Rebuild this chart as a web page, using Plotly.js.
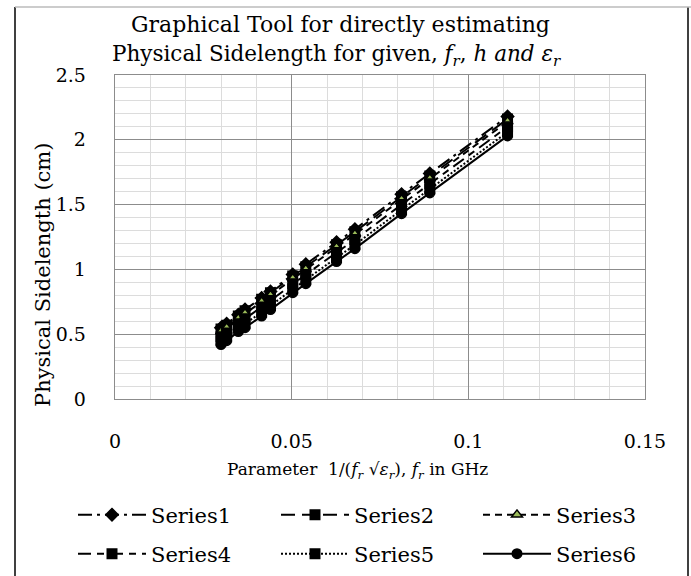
<!DOCTYPE html>
<html>
<head>
<meta charset="utf-8">
<script src="https://cdn.plot.ly/plotly-3.0.1.min.js"></script>
<style>html,body{margin:0;padding:0;background:#fff;}#chart{width:691px;height:576px;}</style>
</head>
<body>
<div id="chart"></div>
<script>
// Parameter 1/(fr*sqrt(er)), fr in GHz
const xParam = [0.0300, 0.0316, 0.0349, 0.0368, 0.0415, 0.0440, 0.0503, 0.0540, 0.0627, 0.0679, 0.0811, 0.0891, 0.1111];
const series1 = [0.55, 0.58, 0.65, 0.69, 0.78, 0.83, 0.96, 1.04, 1.21, 1.31, 1.58, 1.74, 2.18];
const series2 = [0.54, 0.57, 0.64, 0.68, 0.77, 0.82, 0.95, 1.02, 1.19, 1.29, 1.56, 1.72, 2.16];
const series3 = [0.52, 0.55, 0.62, 0.66, 0.75, 0.80, 0.93, 1.00, 1.17, 1.27, 1.54, 1.70, 2.14];
const series4 = [0.48, 0.51, 0.58, 0.62, 0.71, 0.76, 0.89, 0.96, 1.13, 1.23, 1.50, 1.66, 2.10];
const series5 = [0.45, 0.48, 0.55, 0.58, 0.67, 0.72, 0.85, 0.92, 1.09, 1.19, 1.46, 1.62, 2.06];
const series6 = [0.42, 0.45, 0.52, 0.55, 0.64, 0.69, 0.82, 0.89, 1.06, 1.16, 1.43, 1.59, 2.03];
const seriesNames = ['Series1', 'Series2', 'Series3', 'Series4', 'Series5', 'Series6'];

const FONT = 'DejaVu Serif';
const styles = [
  {dash: '14px,5px,3px,5px', symbol: 'diamond', color: '#000'},
  {dash: '14px,7px', symbol: 'square', color: '#000'},
  {dash: '7px,5px', symbol: 'triangle-up', color: '#9bbb59'},
  {dash: '13px,6px,7px,6px', symbol: 'square', color: '#000'},
  {dash: '2px,2px', symbol: 'square', color: '#000'},
  {dash: 'solid', symbol: 'circle', color: '#000'}
];
const legendIds = ['legend', 'legend2', 'legend3', 'legend4', 'legend5', 'legend6'];
const ys = [series1, series2, series3, series4, series5, series6];
const traces = ys.map((y, i) => ({
  type: 'scatter', mode: 'lines+markers', x: xParam, y: y,
  name: seriesNames[i],
  legend: legendIds[i],
  line: {color: '#000', width: 2, dash: styles[i].dash},
  marker: {symbol: styles[i].symbol, size: 9.5, color: styles[i].color, line: {color: '#000', width: 1.5}}
}));

// legend placement (container px)
const colX = [73, 276, 478];
const rowY = [515, 554];
function legendAt(col, row) {
  return {
    orientation: 'h', xref: 'container', yref: 'container', xanchor: 'left', yanchor: 'middle',
    x: colX[col] / 691, y: 1 - rowY[row] / 576,
    font: {family: FONT, size: 21, color: '#000'}, itemwidth: 68,
    bgcolor: 'rgba(0,0,0,0)', borderwidth: 0
  };
}
const px = v => (v - 115) / 530;   // container px -> paper x
const py = v => (399 - v) / 324;   // container px -> paper y

const layout = {
  width: 691, height: 576,
  margin: {l: 115, r: 46, t: 75, b: 177},
  paper_bgcolor: '#fff', plot_bgcolor: '#fff',
  font: {family: FONT, color: '#000'},
  showlegend: true,
  xaxis: {
    range: [0, 0.15], dtick: 0.05, tick0: 0, showgrid: true, gridcolor: '#8c8c8c', gridwidth: 1.3,
    minor: {dtick: 0.01, showgrid: true, gridcolor: '#dcdcdc', gridwidth: 1},
    showline: true, mirror: true, linecolor: '#8c8c8c', linewidth: 1.3, zeroline: false,
    ticks: '', tickfont: {family: FONT, size: 19, color: '#000'}, ticklabelstandoff: 25,
    fixedrange: true
  },
  yaxis: {
    range: [0, 2.5], dtick: 0.5, tick0: 0, showgrid: true, gridcolor: '#8c8c8c', gridwidth: 1.3,
    minor: {dtick: 0.1, showgrid: true, gridcolor: '#dcdcdc', gridwidth: 1},
    showline: true, mirror: true, linecolor: '#8c8c8c', linewidth: 1.3, zeroline: false,
    ticks: '', tickfont: {family: FONT, size: 19, color: '#000'}, ticklabelstandoff: 24,
    fixedrange: true
  },
  legend: legendAt(0, 0), legend2: legendAt(1, 0), legend3: legendAt(2, 0),
  legend4: legendAt(0, 1), legend5: legendAt(1, 1), legend6: legendAt(2, 1),
  annotations: [
    {text: 'Graphical Tool for directly estimating', xref: 'paper', yref: 'paper',
     x: px(340), y: py(25), showarrow: false, xanchor: 'center', yanchor: 'middle',
     font: {family: FONT, size: 22, color: '#000'}},
    {text: 'Physical Sidelength for given, <i>f<sub>r</sub></i>, <i>h and ε<sub>r</sub></i>', xref: 'paper', yref: 'paper',
     x: px(336), y: py(56), showarrow: false, xanchor: 'center', yanchor: 'middle',
     font: {family: FONT, size: 21.5, color: '#000'}},
    {text: 'Physical Sidelength (cm)', xref: 'paper', yref: 'paper', x: px(43), y: py(275),
     textangle: -90, showarrow: false, xanchor: 'center', yanchor: 'middle', font: {family: FONT, size: 21, color: '#000'}},
    {text: 'Parameter  1/(<i>f<sub>r</sub></i> √<i>ε<sub>r</sub></i>), <i>f<sub>r</sub></i> in GHz', xref: 'paper', yref: 'paper',
     x: px(357), y: py(470), showarrow: false, xanchor: 'center', yanchor: 'middle',
     font: {family: FONT, size: 17, color: '#000'}}
  ],
  shapes: [
    {type: 'line', xref: 'paper', yref: 'paper', x0: px(15), x1: px(15), y0: py(7), y1: py(580), line: {color: '#000', width: 1.5}},
    {type: 'line', xref: 'paper', yref: 'paper', x0: px(688), x1: px(688), y0: py(7), y1: py(580), line: {color: '#000', width: 1.5}},
    {type: 'line', xref: 'paper', yref: 'paper', x0: px(15), x1: px(695), y0: py(7), y1: py(7), line: {color: '#bbbbbb', width: 1.5}}
  ]
};

Plotly.newPlot('chart', traces, layout, {displayModeBar: false, staticPlot: true});
</script>
</body>
</html>
